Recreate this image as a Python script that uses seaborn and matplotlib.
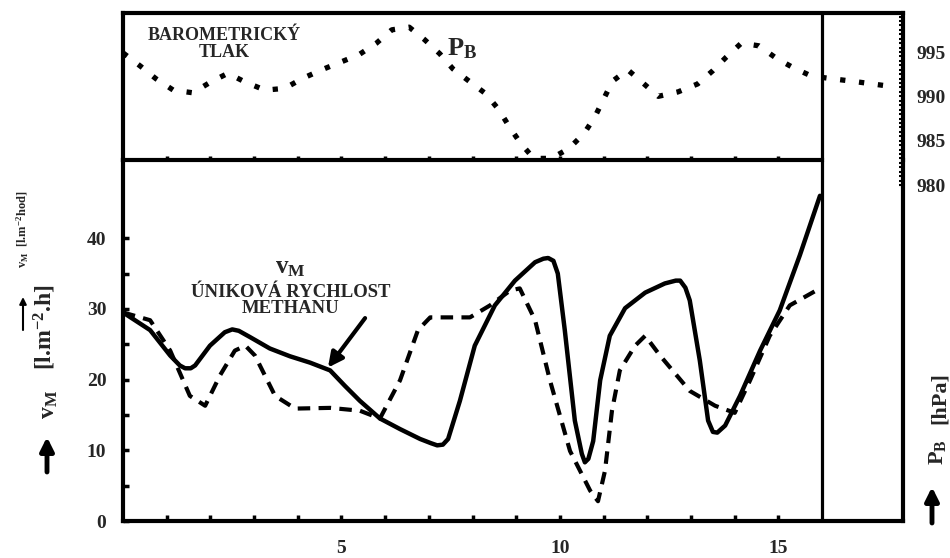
import seaborn as sns
import matplotlib.pyplot as plt
import numpy as np

# barometricky tlak P_B [hPa] (teckovana krivka nahore)
tlak_x = [0.0, 0.4, 0.75, 1.15, 1.6, 2.0, 2.4, 2.8, 3.25, 3.7, 4.1, 4.55, 4.95, 5.4, 5.8,
          6.15, 6.55, 6.9, 7.25, 7.55, 7.95, 8.3, 8.6, 8.85, 9.1, 9.4, 9.8, 10.2, 10.55,
          10.8, 11.0, 11.2, 11.55, 11.9, 12.25, 12.7, 13.15, 13.5, 13.8, 14.15, 14.55,
          14.95, 15.35, 15.75, 16.2, 16.7, 17.15, 17.6]
tlak_p = [994.9, 993.4, 992.0, 990.7, 990.4, 991.6, 992.6, 991.6, 990.7, 990.9, 992.0,
          993.0, 993.8, 994.7, 996.0, 997.5, 997.8, 996.4, 994.8, 993.1, 991.6, 990.3,
          988.5, 986.5, 984.7, 983.0, 983.0, 984.1, 985.8, 987.7, 989.7, 991.7, 993.0,
          991.5, 990.0, 990.5, 991.4, 992.9, 994.4, 996.0, 995.7, 994.3, 993.2, 992.3,
          992.0, 991.7, 991.4, 991.1]

# unikova rychlost methanu v_M (plna cara)
vm_x = [0.0, 0.62, 1.08, 1.3, 1.42, 1.55, 1.65, 1.99, 2.33, 2.5, 2.65, 2.91, 3.36, 3.82,
        4.28, 4.74, 5.08, 5.42, 5.88, 6.34, 6.8, 7.05, 7.19, 7.32, 7.44, 7.71, 8.05,
        8.51, 8.97, 9.43, 9.62, 9.73, 9.85, 9.95, 10.11, 10.34, 10.5, 10.57, 10.65,
        10.76, 10.92, 11.14, 11.49, 11.95, 12.4, 12.65, 12.75, 12.87, 12.97, 13.2,
        13.39, 13.5, 13.6, 13.78, 14.12, 14.58, 15.03, 15.49, 15.95]
vm_y = [29.5, 27.0, 23.4, 22.0, 21.6, 21.6, 22.0, 24.8, 26.7, 27.1, 26.9, 26.0, 24.4,
        23.3, 22.4, 21.3, 19.1, 17.0, 14.5, 13.0, 11.6, 11.0, 10.7, 10.8, 11.6, 17.0,
        24.8, 30.5, 34.0, 36.6, 37.1, 37.2, 36.8, 35.0, 27.0, 14.2, 9.5, 8.3, 8.8,
        11.3, 19.9, 26.2, 30.1, 32.3, 33.6, 34.0, 34.0, 33.0, 31.2, 22.7, 14.2, 12.6,
        12.5, 13.5, 17.7, 24.1, 29.8, 37.6, 46.0]

# druha rada (carkovana cara)
cark_x = [0.0, 0.62, 1.08, 1.53, 1.88, 2.22, 2.56, 2.8, 3.02, 3.48, 3.94, 4.74, 5.42,
          5.88, 6.34, 6.75, 7.03, 7.94, 8.4, 8.86, 9.08, 9.43, 9.77, 10.23, 10.69,
          10.87, 11.03, 11.19, 11.37, 11.72, 11.95, 12.29, 12.97, 13.55, 14.0, 14.35,
          14.8, 15.26, 15.95]
cark_y = [29.5, 28.4, 24.1, 17.7, 16.3, 20.6, 24.1, 24.8, 23.4, 17.7, 15.9, 16.0, 15.6,
          14.5, 19.9, 27.0, 28.8, 28.8, 30.5, 32.6, 32.9, 28.4, 19.9, 9.9, 4.3, 2.8,
          7.1, 15.6, 21.3, 24.8, 26.2, 23.4, 18.4, 16.3, 15.3, 19.9, 26.2, 30.5, 32.9]

x_popisky = [5, 10, 15]
y_popisky = [0, 10, 20, 30, 40]
p_popisky = [980, 985, 990, 995]

sns.set_style("ticks")
plt.rcParams['font.family'] = ['Liberation Serif', 'DejaVu Serif']
plt.rcParams['font.weight'] = 'bold'
plt.rcParams['mathtext.fontset'] = 'custom'
plt.rcParams['mathtext.rm'] = 'Liberation Serif:bold'
plt.rcParams['mathtext.it'] = 'Liberation Serif:bold'
plt.rcParams['mathtext.bf'] = 'Liberation Serif:bold'

W, H = 950, 558
fig = plt.figure(figsize=(W / 100, H / 100), dpi=100)


def box(l, t, r, b):
    return [l / W, 1 - b / H, (r - l) / W, (b - t) / H]


ax = fig.add_axes(box(123, 160, 903, 521))
axt = fig.add_axes(box(123, 13, 903, 160))
axp = fig.add_axes(box(123, 13, 903, 187))

# spodni graf
sns.lineplot(x=vm_x, y=vm_y, ax=ax, color='black', lw=3.2, estimator=None, sort=False)
sns.lineplot(x=cark_x, y=cark_y, ax=ax, color='black', lw=3.0, estimator=None,
             sort=False, linestyle=(0, (3, 2)))
ax.set_xlim(0, 17.85)
ax.set_ylim(0, 51.06)
ax.axvline(16, color='black', lw=2.3)
xt = list(range(1, 16))
ax.set_xticks(xt, labels=[str(i) if i in x_popisky else '' for i in xt])
yt = list(range(0, 41, 5))
ax.set_yticks(yt, labels=[str(i) if i in y_popisky else '' for i in yt])
ax.tick_params(direction='in', length=4, width=2.5, labelsize=14, color='black')
ax.tick_params(axis='x', pad=14)
ax.tick_params(axis='y', pad=12)
for s in ['left', 'bottom', 'right']:
    ax.spines[s].set_linewidth(3)
    ax.spines[s].set_color('black')
ax.spines['top'].set_visible(False)

ax.annotate('', xy=(4.69, 21.7), xytext=(5.54, 28.7),
            arrowprops=dict(arrowstyle='-|>', lw=3, color='black', mutation_scale=22,
                            shrinkA=0, shrinkB=0))
ax.text(3.84, 35.9, r"v$_\mathrm{M}$", fontsize=18, ha='center', va='center')
ax.text(3.84, 31.2, "ÚNIKOVÁ RYCHLOST\nMETHANU", fontsize=13.5, ha='center', va='center',
        linespacing=0.95)

# horni graf - tlak
sns.lineplot(x=tlak_x, y=tlak_p, ax=axt, color='black', lw=3.8, estimator=None,
             sort=False, linestyle=(0, (1, 2.6)))
axt.set_xlim(0, 17.85)
axt.set_ylim(982.82, 999.40)
axt.axvline(16, color='black', lw=2.3)
axt.set_xticks(xt, labels=[])
axt.set_yticks([])
axt.tick_params(axis='x', direction='in', length=3, width=2.5, color='black')
axt.patch.set_alpha(0)
for s in ['left', 'bottom', 'right', 'top']:
    axt.spines[s].set_linewidth(3)
    axt.spines[s].set_color('black')
axt.spines['bottom'].set_bounds(0, 16)
axt.text(2.31, 995.9, "BAROMETRICKÝ\nTLAK", fontsize=13, ha='center', va='center',
         linespacing=1.0)
axt.text(7.76, 995.4, r"P$_\mathrm{B}$", fontsize=19, ha='center', va='center')

# osa tlaku vpravo
axp.set_ylim(979.78, 999.40)
axp.set_xlim(0, 1)
axp.patch.set_alpha(0)
for s in axp.spines.values():
    s.set_visible(False)
axp.set_xticks([])
axp.yaxis.tick_right()
axp.set_yticks(p_popisky, labels=[str(p) for p in p_popisky])
axp.set_yticks(np.arange(980, 999.5, 0.5), minor=True)
axp.tick_params(axis='y', which='both', direction='in', length=3, width=1.5,
                labelsize=14, pad=10, color='black')

# popisky os
fig.text(45 / W, 1 - 327 / H, r"[l.m$^{-2}$.h]", rotation=90, fontsize=17,
         ha='center', va='center')
fig.text(50 / W, 1 - 404 / H, r"v$_\mathrm{M}$", rotation=90, fontsize=17,
         ha='center', va='center')
fig.text(23 / W, 1 - 229 / H, r"v$_\mathrm{M}$  [l.m$^{-2}$hod]", rotation=90, fontsize=9,
         ha='center', va='center')
fig.text(940 / W, 1 - 398 / H, "[hPa]", rotation=90, fontsize=16, ha='center', va='center')
fig.text(937 / W, 1 - 452 / H, r"P$_\mathrm{B}$", rotation=90, fontsize=16,
         ha='center', va='center')
sipka = dict(arrowstyle='-|>', lw=3.5, color='black', mutation_scale=20, shrinkA=0, shrinkB=0)
fig.add_artist(plt.matplotlib.patches.FancyArrowPatch((47, H - 472), (47, H - 437),
               transform=None, **sipka))
fig.add_artist(plt.matplotlib.patches.FancyArrowPatch((932, H - 523), (932, H - 487),
               transform=None, **sipka))
fig.add_artist(plt.matplotlib.patches.FancyArrowPatch(
    (23, H - 330), (23, H - 297), transform=None,
    arrowstyle='-|>', lw=1.5, color='black', mutation_scale=10, shrinkA=0, shrinkB=0))

fig.savefig('out.png', dpi=100)
